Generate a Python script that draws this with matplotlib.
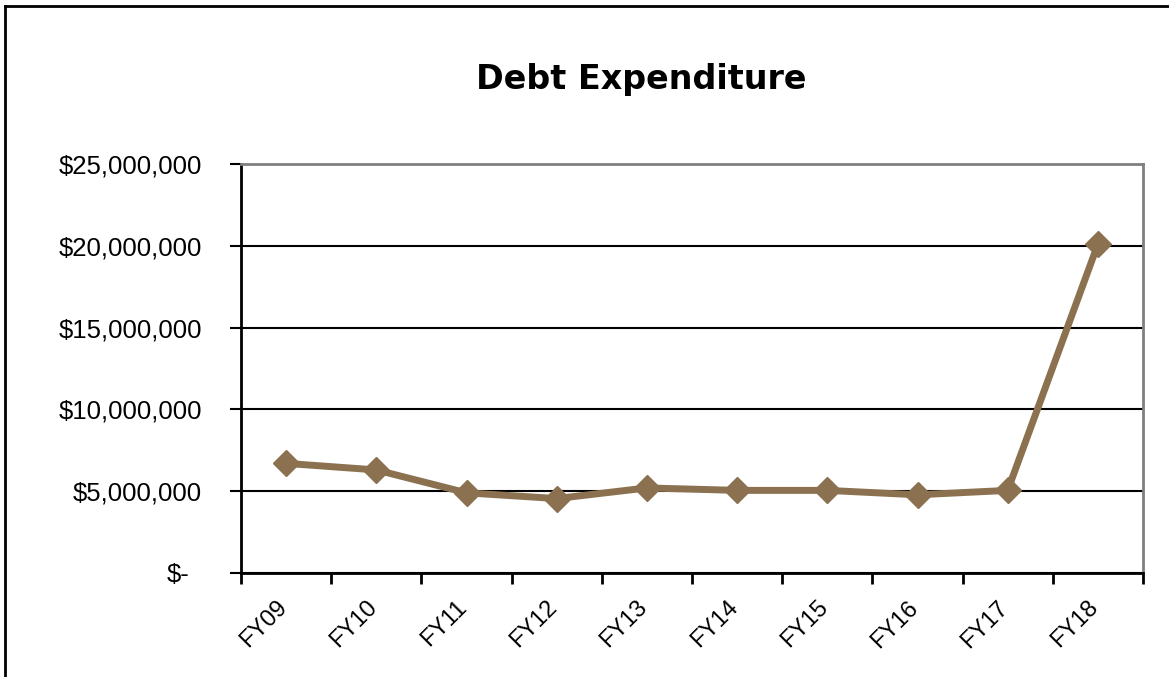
import matplotlib
matplotlib.use("Agg")
import matplotlib.pyplot as plt
from matplotlib.lines import Line2D
from matplotlib.transforms import ScaledTranslation

plt.rcParams["font.family"] = ["Liberation Sans", "DejaVu Sans"]

# data
years = ["FY09", "FY10", "FY11", "FY12", "FY13", "FY14", "FY15", "FY16", "FY17", "FY18"]
debt = [6700000, 6300000, 4900000, 4550000, 5200000, 5050000, 5050000, 4780000, 5050000, 20100000]
yticks = [0, 5000000, 10000000, 15000000, 20000000, 25000000]

fig = plt.figure(figsize=(11.69, 6.77), dpi=100)
ax = fig.add_axes([241 / 1169, 104 / 677, 902 / 1169, 409 / 677])

x = range(len(years))
ax.plot(x, debt, color="#8b7150", linewidth=5, marker="D", markersize=13,
        solid_joinstyle="miter", zorder=3)

ax.set_xlim(-0.5, len(years) - 0.5)
ax.set_ylim(0, 25000000)

# category labels at centres, tick marks on the boundaries
ax.set_xticks(list(x))
ax.set_xticklabels(years, rotation=45, ha="right", va="top", fontsize=17)
ax.tick_params(axis="x", which="major", length=0, pad=17)
for t in ax.get_xticklabels():
    t.set_transform(t.get_transform() + ScaledTranslation(5 / 100, 0, fig.dpi_scale_trans))
ax.set_xticks([i - 0.5 for i in range(len(years) + 1)], minor=True)
ax.tick_params(axis="x", which="minor", length=8, width=2, direction="out")

ax.set_yticks(yticks)
ax.set_yticklabels(["$-"] + ["${:,.0f}".format(v) for v in yticks[1:]], fontsize=18.5)
ax.tick_params(axis="y", length=8, width=1.5, pad=20)
lbl = ax.get_yticklabels()[0]
lbl.set_transform(lbl.get_transform() + ScaledTranslation(-13 / 100, 0, fig.dpi_scale_trans))

ax.grid(axis="y", color="black", linewidth=1.5)
ax.set_axisbelow(True)
for side in ["left", "bottom"]:
    ax.spines[side].set_linewidth(2)
    ax.spines[side].set_color("black")
for side in ["top", "right"]:
    ax.spines[side].set_linewidth(2)
    ax.spines[side].set_color("#808080")

fig.text(641 / 1169, 1 - 80 / 677, "Debt Expenditure", ha="center", va="center",
         fontsize=24, fontweight="bold", family="DejaVu Sans")

# outer chart frame (only left and top edges visible)
fig.add_artist(Line2D([5 / 1169, 5 / 1169], [0, 1 - 6 / 677], color="black", linewidth=2,
                      transform=fig.transFigure))
fig.add_artist(Line2D([5 / 1169, 1], [1 - 6 / 677, 1 - 6 / 677], color="black", linewidth=2,
                      transform=fig.transFigure))

fig.savefig("out.png", dpi=100)
